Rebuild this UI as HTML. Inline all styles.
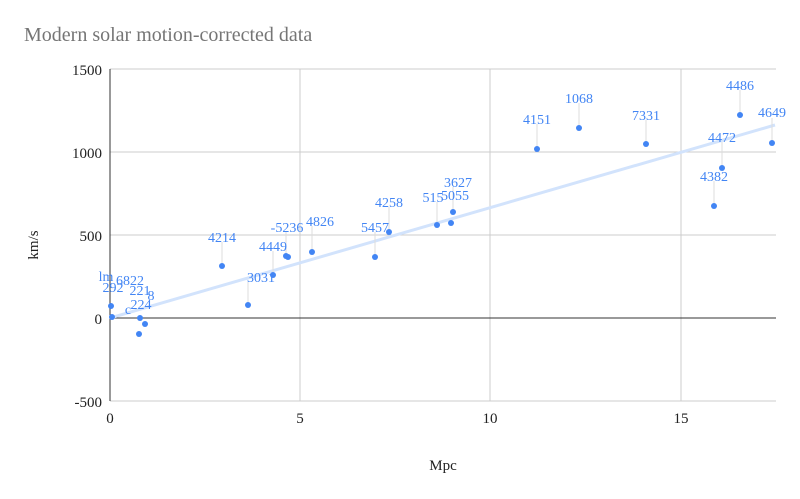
<!DOCTYPE html>
<html><head><meta charset="utf-8"><style>
body{margin:0;background:#fff}
svg text{font-family:"Liberation Serif",serif}
</style></head><body>
<svg width="800" height="494" xmlns="http://www.w3.org/2000/svg">
<rect width="800" height="494" fill="#fff"/>
<text x="24" y="41" font-size="20" fill="#757575">Modern solar motion-corrected data</text>
<g stroke="#ccc" stroke-width="1">
<line x1="110" y1="69" x2="776" y2="69"/>
<line x1="110" y1="152" x2="776" y2="152"/>
<line x1="110" y1="235" x2="776" y2="235"/>
<line x1="110" y1="401" x2="776" y2="401"/>
<line x1="300" y1="69" x2="300" y2="401"/>
<line x1="490" y1="69" x2="490" y2="401"/>
<line x1="681" y1="69" x2="681" y2="401"/>
</g>
<line x1="110" y1="69" x2="110" y2="401" stroke="#333"/>
<line x1="110" y1="318" x2="776" y2="318" stroke="#333"/>
<g font-size="15" fill="#222" text-anchor="end">
<text x="102" y="75">1500</text><text x="102" y="158">1000</text><text x="102" y="241">500</text><text x="102" y="324">0</text><text x="102" y="407">-500</text>
</g>
<g font-size="15" fill="#222" text-anchor="middle">
<text x="110" y="423">0</text><text x="300" y="423">5</text><text x="490" y="423">10</text><text x="681" y="423">15</text>
<text x="443" y="470">Mpc</text>
</g>
<text x="38" y="245" font-size="15" fill="#222" text-anchor="middle" transform="rotate(-90 38 245)">km/s</text>
<line x1="110" y1="318" x2="775" y2="125" stroke="#d2e3fc" stroke-width="3"/>
<g stroke="#ddd" stroke-width="1">
<line x1="222" y1="242" x2="222" y2="266"/><line x1="248" y1="282" x2="248" y2="305"/>
<line x1="273" y1="251" x2="273" y2="275"/><line x1="286" y1="232" x2="286" y2="256"/>
<line x1="312" y1="226" x2="312" y2="252"/><line x1="375" y1="232" x2="375" y2="257"/>
<line x1="389" y1="207" x2="389" y2="232"/><line x1="437" y1="202" x2="437" y2="225"/>
<line x1="453" y1="187" x2="453" y2="212"/><line x1="537" y1="124" x2="537" y2="149"/>
<line x1="579" y1="103" x2="579" y2="128"/><line x1="646" y1="120" x2="646" y2="144"/>
<line x1="714" y1="181" x2="714" y2="206"/><line x1="722" y1="142" x2="722" y2="168"/>
<line x1="740" y1="90" x2="740" y2="115"/><line x1="772" y1="118" x2="772" y2="143"/>
</g>
<g fill="#4285f4">
<circle cx="111" cy="306" r="3"/><circle cx="112" cy="317" r="3"/><circle cx="140" cy="318" r="3"/>
<circle cx="145" cy="324" r="3"/><circle cx="139" cy="334" r="3"/>
<circle cx="222" cy="266" r="3"/><circle cx="248" cy="305" r="3"/><circle cx="273" cy="275" r="3"/>
<circle cx="286" cy="256" r="3"/><circle cx="288" cy="257" r="3"/><circle cx="312" cy="252" r="3"/>
<circle cx="375" cy="257" r="3"/><circle cx="389" cy="232" r="3"/><circle cx="437" cy="225" r="3"/>
<circle cx="451" cy="223" r="3"/><circle cx="453" cy="212" r="3"/>
<circle cx="537" cy="149" r="3"/><circle cx="579" cy="128" r="3"/><circle cx="646" cy="144" r="3"/>
<circle cx="714" cy="206" r="3"/><circle cx="722" cy="168" r="3"/><circle cx="740" cy="115" r="3"/>
<circle cx="772" cy="143" r="3"/>
</g>
<g font-size="14" fill="#4285f4" text-anchor="middle">
<text x="106" y="281">lm</text><text x="113" y="292">292</text><text x="130" y="285">6822</text>
<text x="140" y="295">221</text><text x="151" y="300">8</text><text x="141" y="309">224</text><text x="128" y="314">c</text>
<text x="222" y="242">4214</text><text x="261" y="282">3031</text><text x="273" y="251">4449</text>
<text x="287" y="232">-5236</text><text x="320" y="226">4826</text><text x="375" y="232">5457</text>
<text x="389" y="207">4258</text><text x="433" y="202">515</text><text x="455" y="200">5055</text>
<text x="458" y="187">3627</text><text x="537" y="124">4151</text><text x="579" y="103">1068</text>
<text x="646" y="120">7331</text><text x="714" y="181">4382</text><text x="722" y="142">4472</text>
<text x="740" y="90">4486</text><text x="772" y="117">4649</text>
</g>
</svg>
</body></html>
